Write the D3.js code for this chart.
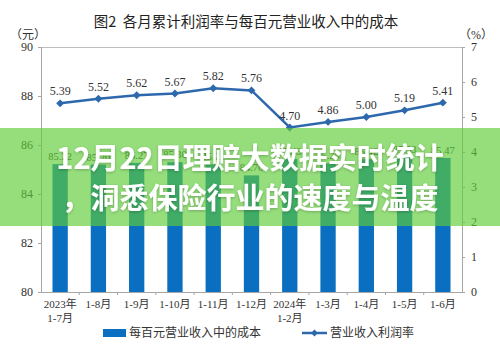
<!DOCTYPE html>
<html><head><meta charset="utf-8">
<script src="https://cdn.jsdelivr.net/npm/d3@7"></script>
<style>
html,body{margin:0;padding:0;background:#fff;}
svg{display:block;}
</style></head>
<body>
<svg id="c" width="500" height="354"></svg>
<script>
const categories = ["2023年|1-7月","1-8月","1-9月","1-10月","1-11月","1-12月","2024年|1-2月","1-3月","1-4月","1-5月","1-6月"];
const costValues = [85.22, 85.20, 85.27, 85.30, 85.21, 84.76, 85.43, 85.25, 85.42, 85.53, 85.47];
const profitRate = [5.39, 5.52, 5.62, 5.67, 5.82, 5.76, 4.70, 4.86, 5.00, 5.19, 5.41];
const leftTicks = [80, 82, 84, 86, 88, 90];
const rightTicks = [0, 1, 2, 3, 4, 5, 6, 7];
const titleText = "图2\u00a0\u00a0各月累计利润率与每百元营业收入中的成本";
const bannerLines = ["12月22日理赔大数据实时统计", "，洞悉保险行业的速度与温度"];
const legendNames = ["每百元营业收入中的成本", "营业收入利润率"];

const svg = d3.select("#c");
const L = 41, R = 462, T = 47, B = 292;
const serif = "'Liberation Serif','Noto Sans CJK SC',serif";
const cjk = "'Noto Sans CJK SC',sans-serif";
const barColor = "#0a6fc0", lineColor = "#2d68ad", axisColor = "#a6a6a6", textColor = "#333";

const x = d3.scaleBand().domain(categories).range([L, R]).paddingInner(0.6).paddingOuter(0.3);
const xs = d3.scaleBand().domain(categories).range([L, R]);
const yL = d3.scaleLinear().domain([80, 90]).range([B, T]);
const yR = d3.scaleLinear().domain([0, 7]).range([B, T]);

// title
svg.append("text").attr("x", 246).attr("y", 27).attr("text-anchor", "middle")
  .attr("font-family", cjk).attr("font-size", 14.5).attr("fill", "#222").text(titleText);
svg.append("text").attr("x", 28).attr("y", 39).attr("text-anchor", "middle")
  .attr("font-family", serif).attr("font-size", 12).attr("fill", textColor).text("（元）");
svg.append("text").attr("x", 476).attr("y", 39).attr("text-anchor", "middle")
  .attr("font-family", serif).attr("font-size", 12).attr("fill", textColor).text("（%）");

// frame top line
svg.append("line").attr("x1", L).attr("x2", R).attr("y1", T + 0.5).attr("y2", T + 0.5)
  .attr("stroke", "#bdbdbd").attr("stroke-width", 1);

// left axis
const gl = svg.append("g").attr("transform", `translate(${L},0)`)
  .call(d3.axisLeft(yL).tickValues(leftTicks).tickSize(3).tickPadding(5).tickFormat(d3.format("d")));
// right axis
const gr = svg.append("g").attr("transform", `translate(${R},0)`)
  .call(d3.axisRight(yR).tickValues(rightTicks).tickSize(3).tickPadding(6).tickFormat(d3.format("d")));
[gl, gr].forEach(g => {
  g.selectAll("path,line").attr("stroke", axisColor);
  g.selectAll("text").attr("font-family", serif).attr("font-size", 12).attr("fill", textColor);
});

// bottom axis
const gb = svg.append("g").attr("transform", `translate(0,${B})`)
  .call(d3.axisBottom(xs).tickSize(0).tickFormat(""));
gb.select("path").attr("stroke", axisColor);
// tick marks between categories
svg.append("g").selectAll("line").data(categories.slice(1)).join("line")
  .attr("x1", d => xs(d)).attr("x2", d => xs(d)).attr("y1", B).attr("y2", B + 3)
  .attr("stroke", axisColor);
// category labels
const cl = svg.append("g").selectAll("text").data(categories).join("text")
  .attr("x", d => xs(d) + xs.bandwidth() / 2).attr("y", B + 16)
  .attr("text-anchor", "middle").attr("font-family", serif).attr("font-size", 11).attr("fill", textColor);
cl.each(function(d) {
  const parts = d.split("|");
  const t = d3.select(this);
  parts.forEach((p, i) => t.append("tspan").attr("x", xs(d) + xs.bandwidth() / 2).attr("dy", i ? 14 : 0).text(p));
});

// bars
svg.append("g").selectAll("rect").data(costValues).join("rect")
  .attr("x", (d, i) => x(categories[i])).attr("width", x.bandwidth())
  .attr("y", d => yL(d)).attr("height", d => B - yL(d)).attr("fill", barColor);
svg.append("g").selectAll("text").data(costValues).join("text")
  .attr("x", (d, i) => x(categories[i]) + x.bandwidth() / 2).attr("y", d => yL(d) - 4)
  .attr("text-anchor", "middle").attr("font-family", serif).attr("font-size", 10.5).attr("fill", textColor)
  .text(d => d.toFixed(2));

// line
const cx = i => xs(categories[i]) + xs.bandwidth() / 2;
svg.append("path").datum(profitRate)
  .attr("d", d3.line().x((d, i) => cx(i)).y(d => yR(d)))
  .attr("fill", "none").attr("stroke", lineColor).attr("stroke-width", 2.5);
svg.append("g").selectAll("path").data(profitRate).join("path")
  .attr("d", d3.symbol(d3.symbolDiamond2, 40))
  .attr("transform", (d, i) => `translate(${cx(i)},${yR(d)})`).attr("fill", lineColor);
svg.append("g").selectAll("text").data(profitRate).join("text")
  .attr("x", (d, i) => cx(i)).attr("y", d => yR(d) - 8)
  .attr("text-anchor", "middle").attr("font-family", serif).attr("font-size", 12).attr("fill", textColor)
  .text(d => d.toFixed(2));

// legend
const ly = 333;
svg.append("rect").attr("x", 103).attr("y", ly - 4).attr("width", 23).attr("height", 8).attr("fill", barColor);
svg.append("text").attr("x", 129).attr("y", ly + 4).attr("font-family", cjk).attr("font-size", 12)
  .attr("fill", textColor).text(legendNames[0]);
svg.append("line").attr("x1", 302).attr("x2", 327).attr("y1", ly).attr("y2", ly)
  .attr("stroke", lineColor).attr("stroke-width", 2.5);
svg.append("path").attr("d", d3.symbol(d3.symbolDiamond2, 30)).attr("transform", `translate(314.5,${ly})`).attr("fill", lineColor);
svg.append("text").attr("x", 330).attr("y", ly + 4).attr("font-family", cjk).attr("font-size", 12)
  .attr("fill", textColor).text(legendNames[1]);

// banner overlay
svg.append("rect").attr("x", 0).attr("y", 128).attr("width", 500).attr("height", 98)
  .attr("fill", "rgb(93,204,54)").attr("fill-opacity", 0.65);
const defs = svg.append("defs");
const f = defs.append("filter").attr("id", "sh").attr("x", "-5%").attr("y", "-20%").attr("width", "110%").attr("height", "140%");
f.append("feDropShadow").attr("dx", 0).attr("dy", 1).attr("stdDeviation", 1.5).attr("flood-color", "#000").attr("flood-opacity", 0.25);
svg.append("g").selectAll("text").data(bannerLines).join("text")
  .attr("x", 250).attr("y", (d, i) => 169 + i * 40).attr("text-anchor", "middle")
  .attr("font-family", cjk).attr("font-weight", "bold").attr("font-size", 29)
  .attr("fill", "#fff").attr("filter", "url(#sh)").text(d => d);
</script>
</body></html>
